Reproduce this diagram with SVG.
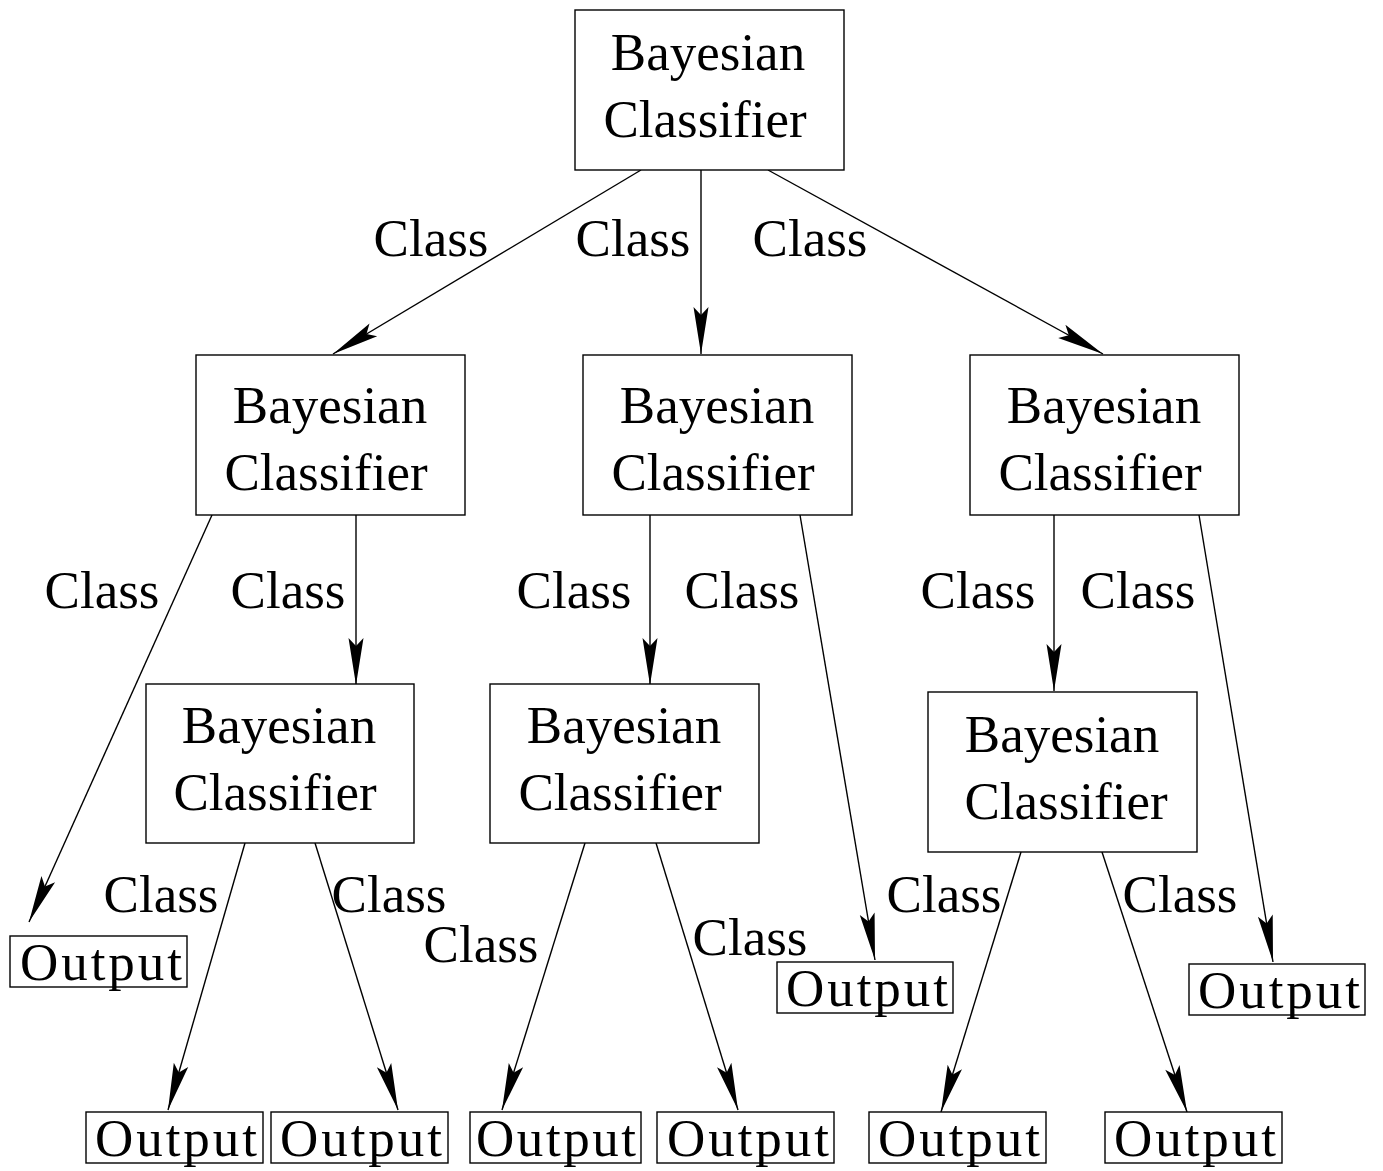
<svg xmlns="http://www.w3.org/2000/svg" width="1383" height="1171" viewBox="0 0 1383 1171">
<style>
.n rect{fill:#fff;stroke:#000;stroke-width:1.4}
text{font-family:"Liberation Serif",serif;font-size:53px;fill:#000;text-anchor:middle}
.c line{stroke:#000;stroke-width:1.4;marker-end:url(#ah)}
</style>
<defs>
<marker id="ah" markerUnits="userSpaceOnUse" viewBox="-50 -10 52 20" refX="0" refY="0" markerWidth="52" markerHeight="20" orient="auto" overflow="visible">
<path d="M0,0 L-47,-7.5 L-39,0 L-47,7.5 Z" fill="#000"/>
</marker>
</defs>
<rect width="1383" height="1171" fill="#fff"/>
<g class="c" id="connectors">
<line x1="641" y1="170" x2="333" y2="354"/>
<line x1="701" y1="170" x2="701" y2="354"/>
<line x1="768" y1="170" x2="1103" y2="354"/>
<line x1="212" y1="515" x2="29" y2="922"/>
<line x1="356" y1="515" x2="356" y2="685"/>
<line x1="650" y1="515" x2="650" y2="685"/>
<line x1="800" y1="515" x2="875" y2="960"/>
<line x1="1054" y1="515" x2="1054" y2="691"/>
<line x1="1199" y1="515" x2="1273" y2="962"/>
<line x1="245" y1="843" x2="168" y2="1110"/>
<line x1="315" y1="843" x2="398" y2="1110"/>
<line x1="585" y1="843" x2="502" y2="1110"/>
<line x1="656" y1="843" x2="738" y2="1110"/>
<line x1="1021" y1="852" x2="941" y2="1112"/>
<line x1="1102" y1="852" x2="1187" y2="1112"/>
</g>
<g id="labels">
<text x="431" y="256">Class</text>
<text x="633" y="256">Class</text>
<text x="810" y="256">Class</text>
<text x="102" y="608">Class</text>
<text x="288" y="608">Class</text>
<text x="574" y="608">Class</text>
<text x="742" y="608">Class</text>
<text x="978" y="608">Class</text>
<text x="1138" y="608">Class</text>
<text x="161" y="912">Class</text>
<text x="389" y="912">Class</text>
<text x="481" y="962">Class</text>
<text x="750" y="955">Class</text>
<text x="944" y="912">Class</text>
<text x="1180" y="912">Class</text>
</g>
<g class="n" id="bc0"><rect x="575" y="10" width="269" height="160"/><text x="708" y="70">Bayesian</text><text x="705" y="137">Classifier</text></g>
<g class="n" id="bc1"><rect x="196" y="355" width="269" height="160"/><text x="330" y="423">Bayesian</text><text x="326" y="490">Classifier</text></g>
<g class="n" id="bc2"><rect x="583" y="355" width="269" height="160"/><text x="717" y="423">Bayesian</text><text x="713" y="490">Classifier</text></g>
<g class="n" id="bc3"><rect x="970" y="355" width="269" height="160"/><text x="1104" y="423">Bayesian</text><text x="1100" y="490">Classifier</text></g>
<g class="n" id="bc4"><rect x="146" y="684" width="268" height="159"/><text x="279" y="743">Bayesian</text><text x="275" y="810">Classifier</text></g>
<g class="n" id="bc5"><rect x="490" y="684" width="269" height="159"/><text x="624" y="743">Bayesian</text><text x="620" y="810">Classifier</text></g>
<g class="n" id="bc6"><rect x="928" y="692" width="269" height="160"/><text x="1062" y="752">Bayesian</text><text x="1066" y="819">Classifier</text></g>
<g class="n" id="o1"><rect x="10" y="936" width="177" height="51"/><text x="101" y="980" textLength="162">Output</text></g>
<g class="n" id="o2"><rect x="86" y="1112" width="177" height="51"/><text x="176" y="1156" textLength="162">Output</text></g>
<g class="n" id="o3"><rect x="271" y="1112" width="177" height="51"/><text x="361" y="1156" textLength="162">Output</text></g>
<g class="n" id="o4"><rect x="470" y="1112" width="171" height="51"/><text x="556" y="1156" textLength="160">Output</text></g>
<g class="n" id="o5"><rect x="657" y="1112" width="177" height="51"/><text x="748" y="1156" textLength="162">Output</text></g>
<g class="n" id="o6"><rect x="777" y="962" width="176" height="51"/><text x="867" y="1006" textLength="162">Output</text></g>
<g class="n" id="o7"><rect x="869" y="1112" width="177" height="51"/><text x="959" y="1156" textLength="162">Output</text></g>
<g class="n" id="o8"><rect x="1105" y="1112" width="177" height="51"/><text x="1195" y="1156" textLength="162">Output</text></g>
<g class="n" id="o9"><rect x="1189" y="964" width="176" height="51"/><text x="1279" y="1008" textLength="162">Output</text></g>
</svg>
